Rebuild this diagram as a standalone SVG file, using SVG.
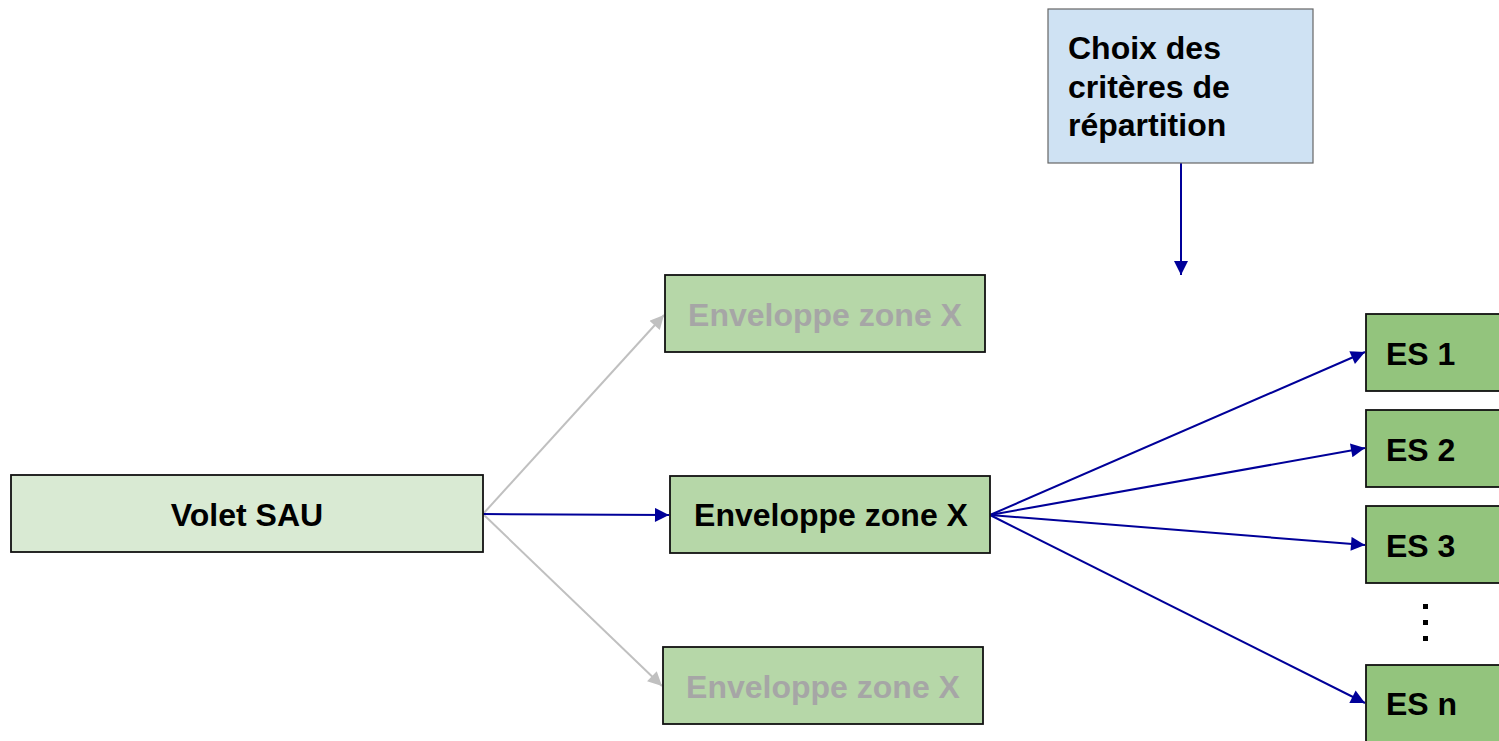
<svg xmlns="http://www.w3.org/2000/svg" width="1499" height="741" viewBox="0 0 1499 741">
  <style>
    .box { stroke: #111111; stroke-width: 1.8; }
    .lbl { font-family: "Liberation Sans", Arial, sans-serif; font-weight: bold; font-size: 32px; fill: #000; }
    .dim { fill: #a6a6a6; }
    .blue { stroke: #000099; stroke-width: 2; fill: none; }
    .grey { stroke: #c0c0c0; stroke-width: 2; fill: none; }
  </style>
  <defs>
    <marker id="ahBlue" viewBox="0 0 10 10" refX="10" refY="5" markerWidth="8.5" markerHeight="7" markerUnits="strokeWidth" orient="auto">
      <path d="M0,0 L10,5 L0,10 Z" fill="#000099"/>
    </marker>
    <marker id="ahGrey" viewBox="0 0 10 10" refX="10" refY="5" markerWidth="8.5" markerHeight="7" markerUnits="strokeWidth" orient="auto">
      <path d="M0,0 L10,5 L0,10 Z" fill="#c0c0c0"/>
    </marker>
  </defs>
  <rect width="1499" height="741" fill="#ffffff"/>

  <g id="connectors">
    <line class="grey" x1="483" y1="514" x2="664" y2="315" marker-end="url(#ahGrey)"/>
    <line class="grey" x1="483" y1="514" x2="662" y2="686" marker-end="url(#ahGrey)"/>
    <line class="blue" x1="483" y1="514" x2="669" y2="515" marker-end="url(#ahBlue)"/>
    <line class="blue" x1="1181" y1="163" x2="1181" y2="275" marker-end="url(#ahBlue)"/>
    <line class="blue" x1="990" y1="515" x2="1365" y2="352" marker-end="url(#ahBlue)"/>
    <line class="blue" x1="990" y1="515" x2="1365" y2="448" marker-end="url(#ahBlue)"/>
    <line class="blue" x1="990" y1="515" x2="1365" y2="545" marker-end="url(#ahBlue)"/>
    <line class="blue" x1="990" y1="515" x2="1365" y2="703" marker-end="url(#ahBlue)"/>
  </g>

  <g id="criteres">
    <rect x="1048" y="9" width="265" height="154" fill="#cfe2f3" stroke="#666666" stroke-width="1.2"/>
    <text class="lbl" x="1068" y="59">Choix des</text>
    <text class="lbl" x="1068" y="98">critères de</text>
    <text class="lbl" x="1068" y="136">répartition</text>
  </g>

  <g id="volet-sau">
    <rect class="box" x="11" y="475" width="472" height="77" fill="#d9ead3"/>
    <text class="lbl" x="247" y="526" text-anchor="middle">Volet SAU</text>
  </g>

  <g id="enveloppe-haut">
    <rect class="box" x="665" y="275" width="320" height="77" fill="#b6d7a8"/>
    <text class="lbl dim" x="825" y="326" text-anchor="middle">Enveloppe zone X</text>
  </g>

  <g id="enveloppe-centre">
    <rect class="box" x="670" y="476" width="320" height="77" fill="#b6d7a8"/>
    <text class="lbl" x="831" y="526" text-anchor="middle">Enveloppe zone X</text>
  </g>

  <g id="enveloppe-bas">
    <rect class="box" x="663" y="647" width="320" height="77" fill="#b6d7a8"/>
    <text class="lbl dim" x="823" y="698" text-anchor="middle">Enveloppe zone X</text>
  </g>

  <g id="es-1">
    <rect class="box" x="1366" y="314" width="140" height="77" fill="#93c47d"/>
    <text class="lbl" x="1386" y="365">ES 1</text>
  </g>
  <g id="es-2">
    <rect class="box" x="1366" y="410" width="140" height="77" fill="#93c47d"/>
    <text class="lbl" x="1386" y="461">ES 2</text>
  </g>
  <g id="es-3">
    <rect class="box" x="1366" y="506" width="140" height="77" fill="#93c47d"/>
    <text class="lbl" x="1386" y="557">ES 3</text>
  </g>
  <g id="es-dots">
    <rect x="1423" y="604" width="5" height="5" fill="#000"/>
    <rect x="1423" y="620" width="5" height="5" fill="#000"/>
    <rect x="1423" y="636" width="5" height="5" fill="#000"/>
  </g>
  <g id="es-n">
    <rect class="box" x="1366" y="665" width="140" height="90" fill="#93c47d"/>
    <text class="lbl" x="1386" y="715">ES n</text>
  </g>
</svg>
